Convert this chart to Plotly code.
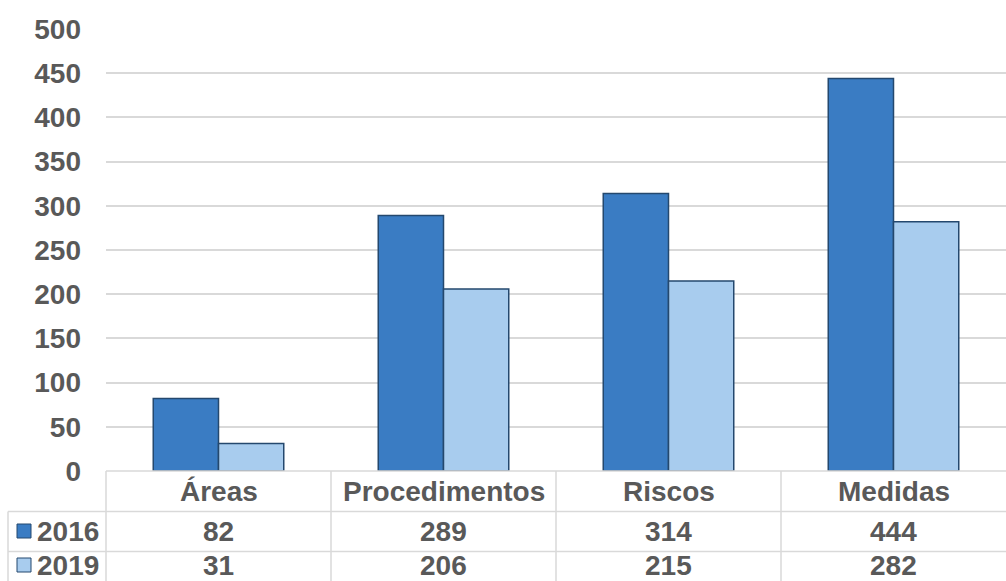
import plotly.graph_objects as go

categories = ["Áreas", "Procedimentos", "Riscos", "Medidas"]
series_names = ["2016", "2019"]
values_2016 = [82, 289, 314, 444]
values_2019 = [31, 206, 215, 282]
y_ticks = [0, 50, 100, 150, 200, 250, 300, 350, 400, 450, 500]

W, H = 1006, 581
ML, MR, MT, MB = 106, 0, 29, 110
PW = W - ML - MR
PH = H - MT - MB

def px_x(px):
    return (px - ML) / PW

def px_y(py):
    return (H - MB - py) / PH

FONT = "Liberation Sans, Arial, sans-serif"
FS = 28
TXT = "#595959"
GRID = "#D9D9D9"
C16 = "#3A7CC3"
C19 = "#A8CCEE"
EDGE = "#24486E"

fig = go.Figure()
fig.add_trace(go.Bar(x=categories, y=values_2016, name=series_names[0],
                     marker=dict(color=C16, line=dict(color=EDGE, width=1.5))))
fig.add_trace(go.Bar(x=categories, y=values_2019, name=series_names[1],
                     marker=dict(color=C19, line=dict(color=EDGE, width=1.5))))

shapes = []
line = dict(color=GRID, width=1.5)
row_lines = [471, 511.5, 551.5, 591.5]
shapes.append(dict(type="line", xref="paper", yref="paper", x0=px_x(106), x1=1, y0=px_y(471), y1=px_y(471), line=line))
for py in row_lines[1:]:
    shapes.append(dict(type="line", xref="paper", yref="paper", x0=px_x(8), x1=1, y0=px_y(py), y1=px_y(py), line=line))
n = len(categories)
for i in range(n):
    xb = i / n
    shapes.append(dict(type="line", xref="paper", yref="paper", x0=xb, x1=xb, y0=px_y(471), y1=px_y(600), line=line))
shapes.append(dict(type="line", xref="paper", yref="paper", x0=px_x(8), x1=px_x(8), y0=px_y(511.5), y1=px_y(600), line=line))

annotations = []
hdr_y = px_y(491)
for c in categories:
    annotations.append(dict(x=c, xref="x", y=hdr_y, yref="paper", text="<b>%s</b>" % c,
                            showarrow=False, xanchor="center", yanchor="middle",
                            font=dict(family=FONT, size=FS, color=TXT)))
rows = [(series_names[0], values_2016, C16, 531), (series_names[1], values_2019, C19, 565)]
for name, vals, col, cy in rows:
    shapes.append(dict(type="rect", xref="paper", yref="paper",
                       x0=px_x(17), x1=px_x(31), y0=px_y(cy - 7), y1=px_y(cy + 7),
                       fillcolor=col, line=dict(color=EDGE, width=1)))
    annotations.append(dict(x=px_x(101), xref="paper", y=px_y(cy), yref="paper",
                            text="<b>%s</b>" % name,
                            showarrow=False, xanchor="right", yanchor="middle",
                            font=dict(family=FONT, size=FS, color=TXT)))
    for c, v in zip(categories, vals):
        annotations.append(dict(x=c, xref="x", y=px_y(cy), yref="paper", text="<b>%d</b>" % v,
                                showarrow=False, xanchor="center", yanchor="middle",
                                font=dict(family=FONT, size=FS, color=TXT)))

fig.update_layout(
    width=W, height=H,
    margin=dict(l=ML, r=MR, t=MT, b=MB, pad=0),
    paper_bgcolor="white", plot_bgcolor="white",
    barmode="group", bargap=0.42, bargroupgap=0,
    showlegend=False,
    font=dict(family=FONT, color=TXT),
    xaxis=dict(showticklabels=False, showgrid=False, zeroline=False, showline=False, ticks=""),
    yaxis=dict(range=[0, 500], tickvals=y_ticks, ticktext=["<b>%d</b>" % t for t in y_ticks],
               tickfont=dict(family=FONT, size=FS, color=TXT), showgrid=True,
               gridcolor=GRID, gridwidth=1.5, zeroline=False, showline=False,
               ticks="", ticklabelstandoff=24),
    shapes=shapes, annotations=annotations,
)
fig.write_html("out.html")
